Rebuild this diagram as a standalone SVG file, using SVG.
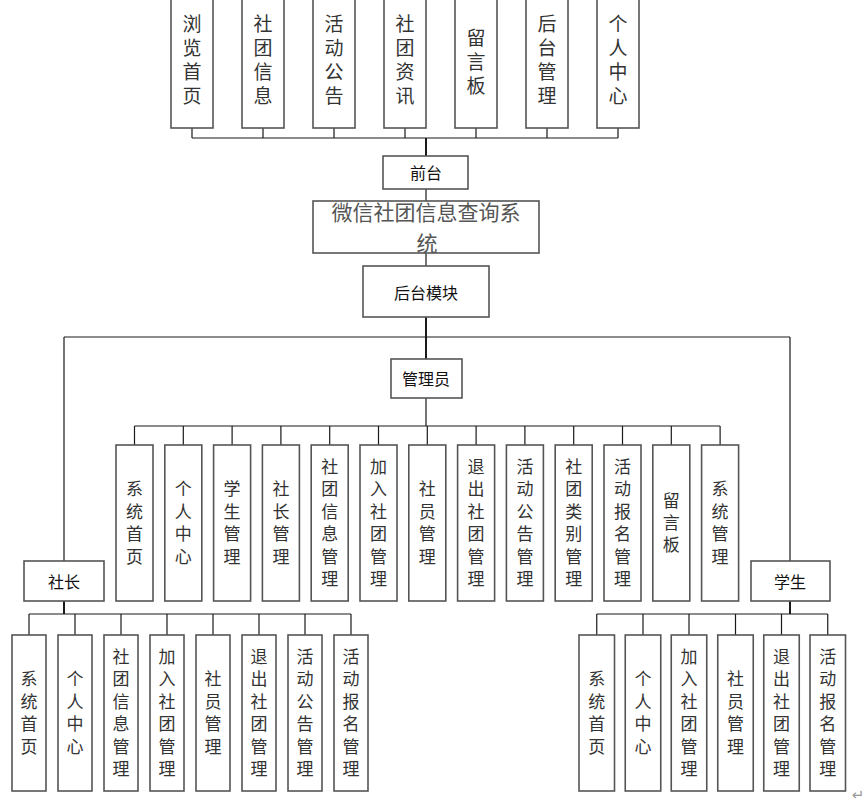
<svg xmlns="http://www.w3.org/2000/svg" width="868" height="804" viewBox="0 0 868 804">
<style>
.box{fill:#fff;stroke:#555;stroke-width:1.6}
.ln{stroke:#1a1a1a;stroke-width:1.2;fill:none}
.lt{stroke:#1a1a1a;stroke-width:2;fill:none}
.t{font-family:"Noto Sans CJK SC","Noto Sans",sans-serif;fill:#333;text-anchor:middle;dominant-baseline:central}
.v{writing-mode:vertical-rl;text-orientation:upright}
.t19{font-size:19px;letter-spacing:5px}
.t17{font-size:17px;letter-spacing:5.4px}
.h{font-size:16px;fill:#111}
.title{font-size:21px;fill:#555}
</style>
<rect width="868" height="804" fill="#fff"/>
<g id="connectors">
<path class="ln" d="M192 138H618M192 128V138M263 128V138M334 128V138M405 128V138M476 128V138M547 128V138M618 128V138"/>
<path class="lt" d="M426 138V156"/>
<path class="ln" d="M426 189V201M426 253V266"/>
<path class="lt" d="M426 317V359"/>
<path class="ln" d="M64 337H790M64 337V561M790 337V561"/>
<path class="ln" d="M426 398V426M134.5 426H720.1M134.5 426V445M183.3 426V445M232.1 426V445M280.9 426V445M329.7 426V445M378.5 426V445M427.3 426V445M476.1 426V445M524.9 426V445M573.7 426V445M622.5 426V445M671.3 426V445M720.1 426V445"/>
<path class="lt" d="M64 601V614"/>
<path class="ln" d="M29 614H351M29 614V635M75 614V635M121 614V635M167 614V635M213 614V635M259 614V635M305 614V635M351 614V635"/>
<path class="lt" d="M790 601V614"/>
<path class="ln" d="M596.75 614H827.75M596.75 614V635M643 614V635M689 614V635M735.5 614V635M781.5 614V635M827.75 614V635"/>
</g>

<g id="top-1"><rect class="box" x="171" y="-5" width="42" height="133"/><text class="t v t19" x="192" y="62.5">浏览首页</text></g>
<g id="top-2"><rect class="box" x="242" y="-5" width="42" height="133"/><text class="t v t19" x="263" y="62.5">社团信息</text></g>
<g id="top-3"><rect class="box" x="313" y="-5" width="42" height="133"/><text class="t v t19" x="334" y="62.5">活动公告</text></g>
<g id="top-4"><rect class="box" x="384" y="-5" width="42" height="133"/><text class="t v t19" x="405" y="62.5">社团资讯</text></g>
<g id="top-5"><rect class="box" x="455" y="-5" width="42" height="133"/><text class="t v t19" x="476" y="64.5">留言板</text></g>
<g id="top-6"><rect class="box" x="526" y="-5" width="42" height="133"/><text class="t v t19" x="547" y="62.5">后台管理</text></g>
<g id="top-7"><rect class="box" x="597" y="-5" width="42" height="133"/><text class="t v t19" x="618" y="62.5">个人中心</text></g>

<g id="qiantai"><rect class="box" x="383" y="156" width="85" height="33"/><text class="t h" x="426" y="172">前台</text></g>
<g id="system"><rect class="box" x="313" y="201" width="226" height="52"/><text class="t title"><tspan x="426" y="211">微信社团信息查询系</tspan><tspan x="427" y="242">统</tspan></text></g>
<g id="houtai"><rect class="box" x="363" y="266" width="126" height="51"/><text class="t h" x="426" y="292">后台模块</text></g>
<g id="admin"><rect class="box" x="391" y="359" width="71" height="39"/><text class="t h" x="426" y="378">管理员</text></g>
<g id="shezhang"><rect class="box" x="24" y="561" width="80" height="40"/><text class="t h" x="64" y="581">社长</text></g>
<g id="student"><rect class="box" x="751" y="561" width="79" height="40"/><text class="t h" x="790" y="581">学生</text></g>

<g id="a1"><rect class="box" x="116" y="445" width="37" height="156"/><text class="t v t17" x="134.5" y="525.2">系统首页</text></g>
<g id="a2"><rect class="box" x="164.8" y="445" width="37" height="156"/><text class="t v t17" x="183.3" y="525.2">个人中心</text></g>
<g id="a3"><rect class="box" x="213.6" y="445" width="37" height="156"/><text class="t v t17" x="232.1" y="525.2">学生管理</text></g>
<g id="a4"><rect class="box" x="262.4" y="445" width="37" height="156"/><text class="t v t17" x="280.9" y="525.2">社长管理</text></g>
<g id="a5"><rect class="box" x="311.2" y="445" width="37" height="156"/><text class="t v t17" x="329.7" y="525.2">社团信息管理</text></g>
<g id="a6"><rect class="box" x="360" y="445" width="37" height="156"/><text class="t v t17" x="378.5" y="525.2">加入社团管理</text></g>
<g id="a7"><rect class="box" x="408.8" y="445" width="37" height="156"/><text class="t v t17" x="427.3" y="525.2">社员管理</text></g>
<g id="a8"><rect class="box" x="457.6" y="445" width="37" height="156"/><text class="t v t17" x="476.1" y="525.2">退出社团管理</text></g>
<g id="a9"><rect class="box" x="506.4" y="445" width="37" height="156"/><text class="t v t17" x="524.9" y="525.2">活动公告管理</text></g>
<g id="a10"><rect class="box" x="555.2" y="445" width="37" height="156"/><text class="t v t17" x="573.7" y="525.2">社团类别管理</text></g>
<g id="a11"><rect class="box" x="604" y="445" width="37" height="156"/><text class="t v t17" x="622.5" y="525.2">活动报名管理</text></g>
<g id="a12"><rect class="box" x="652.8" y="445" width="37" height="156"/><text class="t v t17" x="671.3" y="525.2">留言板</text></g>
<g id="a13"><rect class="box" x="701.6" y="445" width="37" height="156"/><text class="t v t17" x="720.1" y="525.2">系统管理</text></g>

<g id="s1"><rect class="box" x="12" y="635" width="34" height="156"/><text class="t v t17" x="29" y="715.2">系统首页</text></g>
<g id="s2"><rect class="box" x="58" y="635" width="34" height="156"/><text class="t v t17" x="75" y="715.2">个人中心</text></g>
<g id="s3"><rect class="box" x="104" y="635" width="34" height="156"/><text class="t v t17" x="121" y="715.2">社团信息管理</text></g>
<g id="s4"><rect class="box" x="150" y="635" width="34" height="156"/><text class="t v t17" x="167" y="715.2">加入社团管理</text></g>
<g id="s5"><rect class="box" x="196" y="635" width="34" height="156"/><text class="t v t17" x="213" y="715.2">社员管理</text></g>
<g id="s6"><rect class="box" x="242" y="635" width="34" height="156"/><text class="t v t17" x="259" y="715.2">退出社团管理</text></g>
<g id="s7"><rect class="box" x="288" y="635" width="34" height="156"/><text class="t v t17" x="305" y="715.2">活动公告管理</text></g>
<g id="s8"><rect class="box" x="334" y="635" width="34" height="156"/><text class="t v t17" x="351" y="715.2">活动报名管理</text></g>

<g id="x1"><rect class="box" x="579" y="635" width="35.5" height="156"/><text class="t v t17" x="596.75" y="715.2">系统首页</text></g>
<g id="x2"><rect class="box" x="625.25" y="635" width="35.5" height="156"/><text class="t v t17" x="643" y="715.2">个人中心</text></g>
<g id="x3"><rect class="box" x="671.25" y="635" width="35.5" height="156"/><text class="t v t17" x="689" y="715.2">加入社团管理</text></g>
<g id="x4"><rect class="box" x="717.75" y="635" width="35.5" height="156"/><text class="t v t17" x="735.5" y="715.2">社员管理</text></g>
<g id="x5"><rect class="box" x="763.75" y="635" width="35.5" height="156"/><text class="t v t17" x="781.5" y="715.2">退出社团管理</text></g>
<g id="x6"><rect class="box" x="810" y="635" width="35.5" height="156"/><text class="t v t17" x="827.75" y="715.2">活动报名管理</text></g>

<text x="858" y="795" font-family="DejaVu Sans, sans-serif" font-size="15" fill="#999" text-anchor="middle" dominant-baseline="central">↵</text>
</svg>
